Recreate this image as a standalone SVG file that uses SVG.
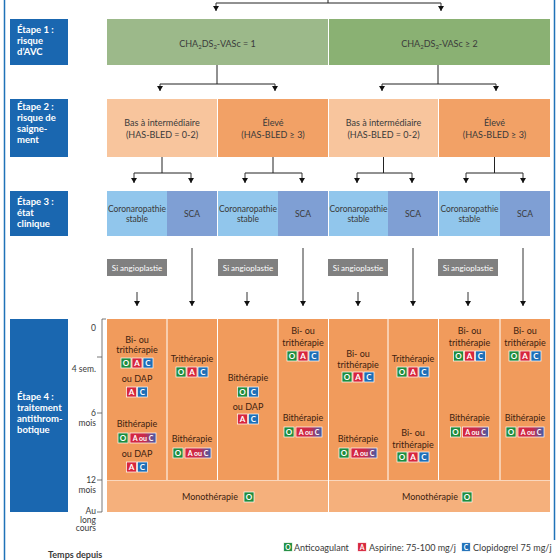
<svg xmlns="http://www.w3.org/2000/svg" width="560" height="560" viewBox="0 0 560 560">
<style>
.lbl{font-family:Lato,"Open Sans","Liberation Sans",sans-serif;font-weight:bold;font-size:9.5px;fill:#fff}
.t{font-family:Lato,"Open Sans","Liberation Sans",sans-serif;font-size:9px;fill:#3a3a3a;text-anchor:middle}
.t3{font-family:Lato,"Open Sans","Liberation Sans",sans-serif;font-size:8.5px;fill:#3a3a3a;text-anchor:middle}
.t4{font-family:Lato,"Open Sans","Liberation Sans",sans-serif;font-size:9px;fill:#3d2210;text-anchor:middle}
.ax{font-family:Lato,"Open Sans","Liberation Sans",sans-serif;font-size:8.5px;fill:#3a3a3a;text-anchor:end}
.bt{font-family:Lato,"Open Sans","Liberation Sans",sans-serif;font-weight:bold;font-size:8px;fill:#fff;text-anchor:middle}
.bts{font-family:Lato,"Open Sans","Liberation Sans",sans-serif;font-weight:bold;font-size:7px;fill:#fff;text-anchor:middle}
.si{font-family:Lato,"Open Sans","Liberation Sans",sans-serif;font-size:8px;fill:#fff;text-anchor:middle}
.leg{font-family:Lato,"Open Sans","Liberation Sans",sans-serif;font-size:9px;fill:#3a3a3a}
.step{fill:#1a67b0}
.c{stroke:#222;stroke-width:1;fill:none}
.ca{stroke:#333;stroke-width:1;fill:none;marker-end:url(#ah)}
.gray{fill:#808080}
.or{fill:#f19b5c}
.mono{fill:#f5b07c}
.cor{fill:#91c6ec}
.sca{fill:#7f9fd4}
.lo{fill:#f8c59d}
.hi{fill:#f2a166}
</style>
<defs>
<marker id="ah" markerWidth="5" markerHeight="6" refX="5" refY="3" orient="auto" markerUnits="userSpaceOnUse"><path d="M0,0 L5,3 L0,6 Z" fill="#111"/></marker>
<linearGradient id="gac" x1="0" y1="0" x2="1" y2="0"><stop offset="0" stop-color="#d7263d"/><stop offset="0.55" stop-color="#c92a4a"/><stop offset="1" stop-color="#3d5fae"/></linearGradient>
<g id="bO"><rect x="-5" y="-5" width="10" height="10" fill="#1e8c3e" stroke="#fff" stroke-width="0.7"/><text class="bt" y="3">O</text></g>
<g id="bA"><rect x="-5" y="-5" width="10" height="10" fill="#d7263d" stroke="#fff" stroke-width="0.7"/><text class="bt" y="3">A</text></g>
<g id="bC"><rect x="-5" y="-5" width="10" height="10" fill="#1d6fb8" stroke="#fff" stroke-width="0.7"/><text class="bt" y="3">C</text></g>
<g id="bAouC"><rect x="-13" y="-5" width="26" height="10" fill="url(#gac)" stroke="#fff" stroke-width="0.7"/><text class="bts" y="2.6">A ou C</text></g>
<g id="OAC"><use href="#bO" x="-11"/><use href="#bA"/><use href="#bC" x="11"/></g>
<g id="OC"><use href="#bO" x="-5.5"/><use href="#bC" x="5.5"/></g>
<g id="AC"><use href="#bA" x="-5.5"/><use href="#bC" x="5.5"/></g>
<g id="OAorC"><use href="#bO" x="-14"/><use href="#bAouC" x="6"/></g>
</defs>
<rect width="560" height="560" fill="#fff"/>
<g id="frame" stroke="#1f72b8" stroke-width="1.5"><line x1="4.5" y1="0" x2="4.5" y2="560"/><line x1="554.5" y1="0" x2="554.5" y2="540"/></g>

<!-- Step labels -->
<g id="step1"><rect class="step" x="10" y="19" width="58" height="46"/><text class="lbl" x="17" y="33">Étape 1 :</text><text class="lbl" x="17" y="44">risque</text><text class="lbl" x="17" y="55">d’AVC</text></g>
<g id="step2"><rect class="step" x="10" y="99" width="58" height="58"/><text class="lbl" x="17" y="110">Étape 2 :</text><text class="lbl" x="17" y="121">risque de</text><text class="lbl" x="17" y="132">saigne-</text><text class="lbl" x="17" y="143">ment</text></g>
<g id="step3"><rect class="step" x="10" y="191" width="58" height="45"/><text class="lbl" x="17" y="205">Étape 3 :</text><text class="lbl" x="17" y="216">état</text><text class="lbl" x="17" y="227">clinique</text></g>
<g id="step4"><rect class="step" x="10" y="319" width="58" height="193"/><text class="lbl" x="17" y="400">Étape 4 :</text><text class="lbl" x="17" y="411">traitement</text><text class="lbl" x="17" y="422">antithrom-</text><text class="lbl" x="17" y="433">botique</text></g>

<!-- Step 1 -->
<g id="cha1"><rect x="107" y="19" width="221" height="46" fill="#9cb98a"/><text class="t" x="217.5" y="47">CHA<tspan font-size="6" dy="2">2</tspan><tspan dy="-2">DS</tspan><tspan font-size="6" dy="2">2</tspan><tspan dy="-2">-VASc = 1</tspan></text></g>
<g id="cha2"><rect x="329" y="19" width="221" height="46" fill="#8ab173"/><text class="t" x="439.5" y="47">CHA<tspan font-size="6" dy="2">2</tspan><tspan dy="-2">DS</tspan><tspan font-size="6" dy="2">2</tspan><tspan dy="-2">-VASc ≥ 2</tspan></text></g>

<!-- Step 2 -->
<g id="bleed1"><rect class="lo" x="107" y="99" width="110" height="58"/><text class="t" x="162" y="126">Bas à intermédiaire</text><text class="t" x="162" y="138">(HAS-BLED = 0-2)</text></g>
<g id="bleed2"><rect class="hi" x="218" y="99" width="110" height="58"/><text class="t" x="273" y="126">Élevé</text><text class="t" x="273" y="138">(HAS-BLED ≥ 3)</text></g>
<g id="bleed3"><rect class="lo" x="329" y="99" width="109" height="58"/><text class="t" x="383.5" y="126">Bas à intermédiaire</text><text class="t" x="383.5" y="138">(HAS-BLED = 0-2)</text></g>
<g id="bleed4"><rect class="hi" x="439" y="99" width="111" height="58"/><text class="t" x="494.5" y="126">Élevé</text><text class="t" x="494.5" y="138">(HAS-BLED ≥ 3)</text></g>

<!-- Step 3 -->
<g id="clin1"><rect class="cor" x="107" y="191" width="60" height="45"/><text class="t3" x="137" y="212">Coronaropathie</text><text class="t3" x="137" y="222">stable</text></g>
<g id="clin2"><rect class="sca" x="167" y="191" width="50" height="45"/><text class="t3" x="192" y="217">SCA</text></g>
<g id="clin3"><rect class="cor" x="218" y="191" width="60" height="45"/><text class="t3" x="248" y="212">Coronaropathie</text><text class="t3" x="248" y="222">stable</text></g>
<g id="clin4"><rect class="sca" x="278" y="191" width="50" height="45"/><text class="t3" x="303" y="217">SCA</text></g>
<g id="clin5"><rect class="cor" x="329" y="191" width="59" height="45"/><text class="t3" x="358.5" y="212">Coronaropathie</text><text class="t3" x="358.5" y="222">stable</text></g>
<g id="clin6"><rect class="sca" x="388" y="191" width="50" height="45"/><text class="t3" x="413" y="217">SCA</text></g>
<g id="clin7"><rect class="cor" x="439" y="191" width="61" height="45"/><text class="t3" x="469.5" y="212">Coronaropathie</text><text class="t3" x="469.5" y="222">stable</text></g>
<g id="clin8"><rect class="sca" x="500" y="191" width="50" height="45"/><text class="t3" x="525" y="217">SCA</text></g>

<!-- Si angioplastie -->
<g id="angio1"><rect class="gray" x="107" y="259" width="60" height="17"/><text class="si" x="137" y="270.5">Si angioplastie</text></g>
<g id="angio2"><rect class="gray" x="218" y="259" width="60" height="17"/><text class="si" x="248" y="270.5">Si angioplastie</text></g>
<g id="angio3"><rect class="gray" x="328" y="259" width="60" height="17"/><text class="si" x="358" y="270.5">Si angioplastie</text></g>
<g id="angio4"><rect class="gray" x="438" y="259" width="60" height="17"/><text class="si" x="468" y="270.5">Si angioplastie</text></g>

<!-- Time axis -->
<g id="axis">
<path d="M106,319 H102 V512 M97,357 H102 M97,413 H102 M97,480 H102 M97,512 H102" stroke="#555" stroke-width="0.8" fill="none"/>
<text class="ax" x="96" y="331">0</text>
<text class="ax" x="96" y="372">4 sem.</text>
<text class="ax" x="96" y="416">6</text>
<text class="ax" x="96" y="426">mois</text>
<text class="ax" x="96" y="483">12</text>
<text class="ax" x="96" y="493">mois</text>
<text class="ax" x="96" y="514">Au</text>
<text class="ax" x="96" y="522.5">long</text>
<text class="ax" x="96" y="531">cours</text>
</g>

<!-- Step 4 columns -->
<g id="tx1"><rect class="or" x="107" y="319" width="59.5" height="161"/>
<text class="t4" x="137" y="343">Bi- ou</text><text class="t4" x="137" y="353">trithérapie</text><use href="#OAC" x="137" y="363"/>
<text class="t4" x="137" y="382">ou DAP</text><use href="#AC" x="137" y="392"/>
<text class="t4" x="137" y="427">Bithérapie</text><use href="#OAorC" x="137" y="438"/>
<text class="t4" x="137" y="457">ou DAP</text><use href="#AC" x="137" y="467"/></g>
<g id="tx2"><rect class="or" x="167.5" y="319" width="49.5" height="161"/>
<text class="t4" x="192" y="362">Trithérapie</text><use href="#OAC" x="192" y="372"/>
<text class="t4" x="192" y="442">Bithérapie</text><use href="#OAorC" x="192" y="453"/></g>
<g id="tx3"><rect class="or" x="218" y="319" width="59.5" height="161"/>
<text class="t4" x="248" y="381">Bithérapie</text><use href="#OC" x="248" y="392"/>
<text class="t4" x="248" y="410">ou DAP</text><use href="#AC" x="248" y="419"/></g>
<g id="tx4"><rect class="or" x="278.5" y="319" width="49.5" height="161"/>
<text class="t4" x="303" y="334">Bi- ou</text><text class="t4" x="303" y="346">trithérapie</text><use href="#OAC" x="303" y="356"/>
<text class="t4" x="303" y="421">Bithérapie</text><use href="#OAorC" x="303" y="432"/></g>
<g id="tx5"><rect class="or" x="329" y="319" width="58.5" height="161"/>
<text class="t4" x="358" y="357">Bi- ou</text><text class="t4" x="358" y="368">trithérapie</text><use href="#OAC" x="358" y="377"/>
<text class="t4" x="358" y="442">Bithérapie</text><use href="#OAorC" x="358" y="453"/></g>
<g id="tx6"><rect class="or" x="388.5" y="319" width="49.5" height="161"/>
<text class="t4" x="413" y="362">Trithérapie</text><use href="#OAC" x="413" y="372"/>
<text class="t4" x="413" y="436">Bi- ou</text><text class="t4" x="413" y="448">trithérapie</text><use href="#OAC" x="413" y="457"/></g>
<g id="tx7"><rect class="or" x="439" y="319" width="60.5" height="161"/>
<text class="t4" x="469.5" y="334">Bi- ou</text><text class="t4" x="469.5" y="346">trithérapie</text><use href="#OAC" x="469.5" y="356"/>
<text class="t4" x="469.5" y="421">Bithérapie</text><use href="#OAorC" x="469.5" y="432"/></g>
<g id="tx8"><rect class="or" x="500.5" y="319" width="49.5" height="161"/>
<text class="t4" x="525" y="334">Bi- ou</text><text class="t4" x="525" y="346">trithérapie</text><use href="#OAC" x="525" y="356"/>
<text class="t4" x="525" y="421">Bithérapie</text><use href="#OAorC" x="525" y="432"/></g>

<g id="mono1"><rect class="mono" x="107" y="480.5" width="221" height="31.5"/><text class="t4" x="210" y="500" font-size="9.5">Monothérapie</text><use href="#bO" x="249" y="497"/></g>
<g id="mono2"><rect class="mono" x="329" y="480.5" width="221" height="31.5"/><text class="t4" x="430" y="500" font-size="9.5">Monothérapie</text><use href="#bO" x="467" y="497"/></g>

<!-- Connectors -->
<g id="connectors">
<path class="c" d="M328,0 V3 M216,3 H441"/>
<path class="ca" d="M216,3 V11"/><path class="ca" d="M441,3 V11"/>
<path class="c" d="M217,65 V84 M160,84 H275 M438,65 V84 M382,84 H496"/>
<path class="ca" d="M160,84 V91"/><path class="ca" d="M275,84 V91"/><path class="ca" d="M382,84 V91"/><path class="ca" d="M496,84 V91"/>
<path class="c" d="M162,157 V173 M134,173 H191 M273,157 V173 M245,173 H302 M383.5,157 V173 M357,173 H412 M494.5,157 V173 M466,173 H523"/>
<path class="ca" d="M134,173 V183"/><path class="ca" d="M191,173 V183"/><path class="ca" d="M245,173 V183"/><path class="ca" d="M302,173 V183"/>
<path class="ca" d="M357,173 V183"/><path class="ca" d="M412,173 V183"/><path class="ca" d="M466,173 V183"/><path class="ca" d="M523,173 V183"/>
<path class="ca" d="M137,292 V306"/><path class="ca" d="M247,292 V306"/><path class="ca" d="M358,292 V306"/><path class="ca" d="M468,292 V306"/>
<path class="ca" d="M192,248 V306"/><path class="ca" d="M303,248 V306"/><path class="ca" d="M413,248 V306"/><path class="ca" d="M523,248 V306"/>
</g>

<!-- Legend -->
<g id="legend">
<text class="leg" x="48" y="558" font-weight="bold" fill="#222">Temps depuis</text>
<use href="#bO" x="288" y="547" transform="translate(288 547) scale(0.85) translate(-288 -547)"/>
<text class="leg" x="294" y="551">Anticoagulant</text>
<use href="#bA" x="362" y="547" transform="translate(362 547) scale(0.85) translate(-362 -547)"/>
<text class="leg" x="369" y="551">Aspirine: 75-100 mg/j</text>
<use href="#bC" x="466" y="547" transform="translate(466 547) scale(0.85) translate(-466 -547)"/>
<text class="leg" x="473" y="551">Clopidogrel 75 mg/j</text>
</g>
</svg>
